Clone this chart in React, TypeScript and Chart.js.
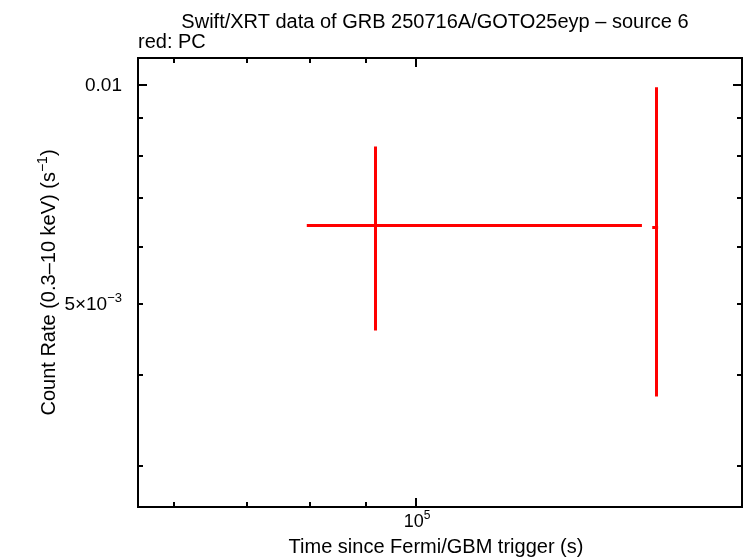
import React, { useEffect, useRef } from "react";
import { Chart, registerables } from "chart.js";

Chart.register(...registerables);

// ---- data ----
const times = [91770, 165800];
const timeLow = [79400, 164650];
const timeHigh = [161100, 166700];
const rates = [6.42e-3, 6.38e-3];
const rateLow = [4.6e-3, 3.735e-3];
const rateHigh = [8.23e-3, 9.93e-3];

const xMin = 55600;
const xMax = 199000;
const yMin = 2.633e-3;
const yMax = 1.089e-2;

const xMinorTicks = [60000, 70000, 80000, 90000, 200000];
const xMajorTicks = [100000];
const yMinorTicks = [0.003, 0.004, 0.005, 0.006, 0.007, 0.008, 0.009];
const yMajorTicks = [0.01];

const titleText = "Swift/XRT data of GRB 250716A/GOTO25eyp \u2013 source 6";
const subtitleText = "red: PC";
const xAxisTitle = "Time since Fermi/GBM trigger (s)";
const yAxisTitleBase = "Count Rate (0.3\u201310 keV) (s";
const yAxisTitleSup = "\u22121";
const yAxisTitleEnd = ")";

const FONT = "'Liberation Sans', Arial, Helvetica, sans-serif";
const RED = "#ff0000";

function drawSupText(
  ctx: CanvasRenderingContext2D,
  parts: { t: string; sup?: boolean }[],
  x: number,
  y: number,
  size: number,
  align: "left" | "center" | "right"
) {
  const supSize = Math.round(size * 0.68);
  let total = 0;
  const widths: number[] = [];
  for (const p of parts) {
    ctx.font = `${p.sup ? supSize : size}px ${FONT}`;
    const w = ctx.measureText(p.t).width;
    widths.push(w);
    total += w;
  }
  let cx = align === "left" ? x : align === "center" ? x - total / 2 : x - total;
  ctx.textAlign = "left";
  ctx.textBaseline = "alphabetic";
  parts.forEach((p, i) => {
    ctx.font = `${p.sup ? supSize : size}px ${FONT}`;
    ctx.fillText(p.t, cx, p.sup ? y - size * 0.42 : y);
    cx += widths[i];
  });
}

const framePlugin = {
  id: "framePlugin",
  afterDraw(chart: any) {
    const ctx: CanvasRenderingContext2D = chart.ctx;
    const { left, right, top, bottom } = chart.chartArea;
    const xs = chart.scales.x;
    const ys = chart.scales.y;
    ctx.save();

    // error bars
    ctx.strokeStyle = RED;
    ctx.lineWidth = 3;
    ctx.lineCap = "butt";
    for (let i = 0; i < times.length; i++) {
      const px = Math.round(xs.getPixelForValue(times[i])) + 0.5;
      const py = Math.round(ys.getPixelForValue(rates[i])) + 0.5;
      const pxl = xs.getPixelForValue(timeLow[i]);
      const pxh = xs.getPixelForValue(timeHigh[i]);
      const pyl = ys.getPixelForValue(rateLow[i]);
      const pyh = ys.getPixelForValue(rateHigh[i]);
      ctx.beginPath();
      ctx.moveTo(pxl, py);
      ctx.lineTo(pxh, py);
      ctx.moveTo(px, pyl);
      ctx.lineTo(px, pyh);
      ctx.stroke();
    }

    // frame
    ctx.strokeStyle = "#000";
    ctx.lineWidth = 2;
    ctx.strokeRect(left, top, right - left, bottom - top);

    // ticks
    const tick = (v: number, len: number, axis: "x" | "y") => {
      ctx.beginPath();
      if (axis === "x") {
        const p = Math.round(xs.getPixelForValue(v));
        if (p < left || p > right) return;
        ctx.moveTo(p, bottom);
        ctx.lineTo(p, bottom - len);
        ctx.moveTo(p, top);
        ctx.lineTo(p, top + len);
      } else {
        const p = Math.round(ys.getPixelForValue(v));
        if (p < top || p > bottom) return;
        ctx.moveTo(left, p);
        ctx.lineTo(left + len, p);
        ctx.moveTo(right, p);
        ctx.lineTo(right - len, p);
      }
      ctx.stroke();
    };
    xMinorTicks.forEach((v) => tick(v, 5, "x"));
    xMajorTicks.forEach((v) => tick(v, 9, "x"));
    yMinorTicks.forEach((v) => tick(v, 5, "y"));
    yMajorTicks.forEach((v) => tick(v, 9, "y"));

    ctx.fillStyle = "#000";
    // tick labels
    const x5 = xs.getPixelForValue(100000);
    drawSupText(ctx, [{ t: "10" }, { t: "5", sup: true }], x5 + 1, 527, 18, "center");
    const y01 = ys.getPixelForValue(0.01);
    drawSupText(ctx, [{ t: "0.01" }], 122, y01 + 6, 19, "right");
    const y005 = ys.getPixelForValue(0.005);
    drawSupText(ctx, [{ t: "5\u00d710" }, { t: "\u22123", sup: true }], 122, y005 + 6, 19, "right");

    // titles
    drawSupText(ctx, [{ t: titleText }], 435, 28, 20, "center");
    drawSupText(ctx, [{ t: subtitleText }], 138, 48, 20, "left");
    drawSupText(ctx, [{ t: xAxisTitle }], 436, 553, 20, "center");

    ctx.save();
    ctx.translate(55, (top + bottom) / 2);
    ctx.rotate(-Math.PI / 2);
    drawSupText(
      ctx,
      [{ t: yAxisTitleBase }, { t: yAxisTitleSup, sup: true }, { t: yAxisTitleEnd }],
      0,
      0,
      20,
      "center"
    );
    ctx.restore();

    ctx.restore();
  },
};

export default function App() {
  const ref = useRef<HTMLCanvasElement | null>(null);
  useEffect(() => {
    if (!ref.current) return;
    const chart = new Chart(ref.current, {
      type: "scatter",
      data: {
        datasets: [
          {
            label: "PC",
            data: times.map((t, i) => ({ x: t, y: rates[i] })),
            pointRadius: 0,
            borderColor: RED,
            backgroundColor: RED,
          },
        ],
      },
      options: {
        responsive: false,
        animation: false,
        devicePixelRatio: 1,
        layout: { padding: { left: 138, right: 4, top: 58, bottom: 51 } },
        plugins: { legend: { display: false }, tooltip: { enabled: false } },
        scales: {
          x: { type: "logarithmic", min: xMin, max: xMax, display: false },
          y: { type: "logarithmic", min: yMin, max: yMax, display: false },
        },
      },
      plugins: [framePlugin],
    });
    return () => chart.destroy();
  }, []);
  return (
    <div style={{ position: "absolute", left: 0, top: 0, width: 746, height: 558, background: "#fff" }}>
      <canvas ref={ref} width={746} height={558} />
    </div>
  );
}
